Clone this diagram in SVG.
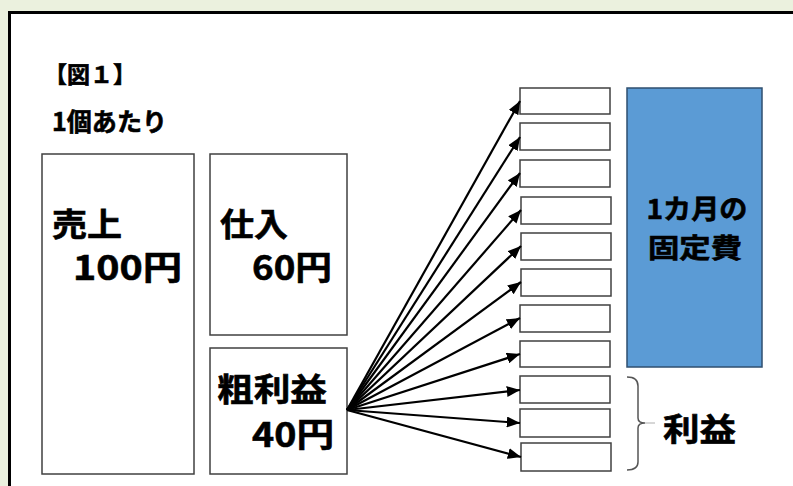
<svg xmlns="http://www.w3.org/2000/svg" width="793" height="486" viewBox="0 0 793 486">
<defs>
<style>
.t{font-family:"Noto Sans CJK JP","Noto Sans",sans-serif;font-weight:bold;fill:#000;stroke:#000;stroke-width:0.6;}
.box{fill:#fff;stroke:#404040;stroke-width:1.5;}
.sm{fill:#fff;stroke:#404040;stroke-width:1.5;}
.arr{stroke:#000;stroke-width:2.2;fill:none;marker-end:url(#ah);}
</style>
<marker id="ah" viewBox="0 0 12 10" refX="12" refY="5" markerWidth="6" markerHeight="5" markerUnits="strokeWidth" orient="auto">
<path d="M0,0 L12,5 L0,10 z" fill="#000"/>
</marker>
</defs>
<rect x="0" y="0" width="793" height="486" fill="#EBF1DE"/>
<rect x="9.5" y="12.5" width="800" height="500" fill="#fff" stroke="#000" stroke-width="3"/>
<g id="title">
<text class="t" x="44" y="83" font-size="23">【図１】</text>
<text class="t" x="52" y="131" font-size="25" textLength="115" lengthAdjust="spacingAndGlyphs">1個あたり</text>
</g>
<g id="uriage">
<rect class="box" x="42" y="154" width="152" height="320"/>
<text class="t" x="52" y="236" font-size="32" textLength="70" lengthAdjust="spacingAndGlyphs">売上</text>
<text class="t" x="73" y="280" font-size="34" textLength="109" lengthAdjust="spacingAndGlyphs">100円</text>
</g>
<g id="shiire">
<rect class="box" x="210" y="154" width="137" height="181"/>
<text class="t" x="220" y="236" font-size="32" textLength="68" lengthAdjust="spacingAndGlyphs">仕入</text>
<text class="t" x="252" y="280" font-size="34" textLength="80" lengthAdjust="spacingAndGlyphs">60円</text>
</g>
<g id="arari">
<rect class="box" x="210" y="348" width="137" height="126"/>
<text class="t" x="217" y="401" font-size="32" textLength="110" lengthAdjust="spacingAndGlyphs">粗利益</text>
<text class="t" x="252" y="447" font-size="34" textLength="82" lengthAdjust="spacingAndGlyphs">40円</text>
</g>
<g id="units">
<rect class="sm" x="520" y="88" width="90" height="26"/>
<rect class="sm" x="520" y="123" width="90" height="27"/>
<rect class="sm" x="520" y="160" width="90" height="27"/>
<rect class="sm" x="521" y="197" width="90" height="27"/>
<rect class="sm" x="521" y="233" width="90" height="27"/>
<rect class="sm" x="521" y="269" width="90" height="27"/>
<rect class="sm" x="520" y="305" width="90" height="27"/>
<rect class="sm" x="520" y="341" width="90" height="26"/>
<rect class="sm" x="520" y="376" width="90" height="27"/>
<rect class="sm" x="520" y="409" width="90" height="28"/>
<rect class="sm" x="521" y="443" width="90" height="28"/>
</g>
<g id="connectors">
<line class="arr" x1="347" y1="410" x2="520" y2="101"/>
<line class="arr" x1="347" y1="410" x2="520" y2="137"/>
<line class="arr" x1="347" y1="410" x2="520" y2="173"/>
<line class="arr" x1="347" y1="410" x2="521" y2="210"/>
<line class="arr" x1="347" y1="410" x2="521" y2="246"/>
<line class="arr" x1="347" y1="410" x2="521" y2="282"/>
<line class="arr" x1="347" y1="410" x2="520" y2="318"/>
<line class="arr" x1="347" y1="410" x2="520" y2="354"/>
<line class="arr" x1="347" y1="410" x2="520" y2="390"/>
<line class="arr" x1="347" y1="410" x2="520" y2="423"/>
<line class="arr" x1="347" y1="410" x2="521" y2="457"/>
</g>
<g id="kotei">
<rect x="627" y="88" width="135" height="279" fill="#5B9BD5" stroke="#2F4F6F" stroke-width="1.5"/>
<text class="t" x="697" y="219" font-size="27" text-anchor="middle" textLength="101" lengthAdjust="spacingAndGlyphs">1カ月の</text>
<text class="t" x="695" y="258" font-size="27" text-anchor="middle" textLength="94" lengthAdjust="spacingAndGlyphs">固定費</text>
</g>
<g id="rieki">
<path d="M627,377 Q638,377 638,386 L638,418 Q638,423 645,423 Q638,423 638,428 L638,462 Q638,470 627,470" fill="none" stroke="#555" stroke-width="1.5"/>
<line x1="645" y1="423" x2="655" y2="423" stroke="#999" stroke-width="0.8"/>
<text class="t" x="663" y="441" font-size="32" textLength="73" lengthAdjust="spacingAndGlyphs">利益</text>
</g>
</svg>
